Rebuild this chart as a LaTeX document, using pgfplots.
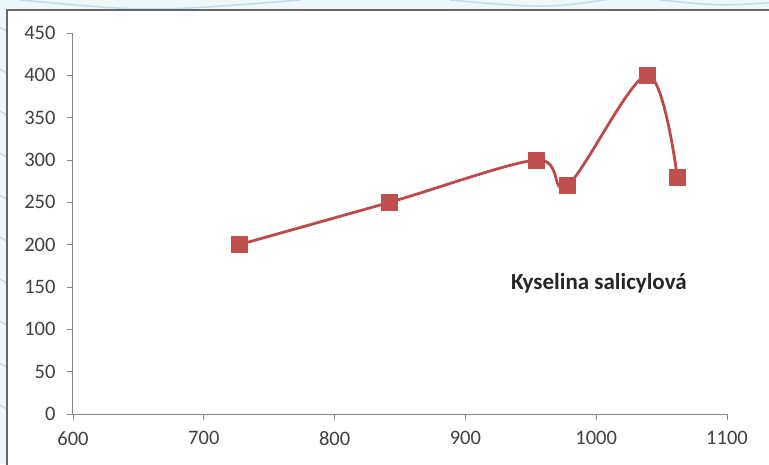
\documentclass[border=0pt]{standalone}
\usepackage{pgfplots}
\pgfplotsset{compat=1.18}
\usepackage{fontspec}
\setmainfont{Carlito}
\definecolor{serred}{HTML}{C0504D}
\definecolor{serline}{HTML}{BC4A4A}
\definecolor{axgray}{HTML}{868686}
\definecolor{labgray}{HTML}{404040}
\definecolor{bgblue}{HTML}{EEF7FA}
\definecolor{swirl}{HTML}{9FD0E0}
\begin{document}
\begin{tikzpicture}[x=1pt,y=1pt]
  % page backdrop
  \useasboundingbox (0,0) rectangle (769,464);
  \clip (0,0) rectangle (769,464);
  \fill[bgblue] (0,0) rectangle (769,464);
  \foreach \k in {0,...,9} {
    \draw[swirl, line width=1.2pt, opacity=0.7]
      (-10,{440-\k*42}) .. controls (2,{436-\k*42}) .. (8,{432-\k*42});
  }
  \draw[swirl, line width=1.5pt, opacity=0.6] (20,464) .. controls (150,452) .. (300,464);
  \draw[swirl, line width=1.5pt, opacity=0.6] (450,464) .. controls (550,455) .. (640,470);
  \draw[swirl, line width=1.5pt, opacity=0.6] (660,464) .. controls (720,458) .. (780,462);
  % chart area
  \fill[white] (7,-5) rectangle (775,454);
  \draw[gray!80!black, line width=1.5pt] (7,-5) -- (7,454) -- (775,454);
  \begin{axis}[
    at={(73pt,50pt)}, anchor=south west,
    scale only axis,
    width=654pt, height=381pt,
    xmin=600, xmax=1100, ymin=0, ymax=450,
    xtick={600,700,...,1100},
    ytick={0,50,...,450},
    axis x line=bottom, axis y line=left,
    axis line style={axgray, line width=1pt, -},
    major tick style={axgray, line width=0.8pt},
    major tick length=6pt,
    tick align=outside,
    every tick label/.append style={font=\fontsize{20.5}{22}\selectfont, text=labgray},
    xticklabel style={yshift=-8pt},
    yticklabel style={xshift=-8pt},
    /pgf/number format/assume math mode=true,
    /pgf/number format/1000 sep={},
    clip=false,
  ]
    \addplot[serline, line width=2.8pt, smooth, tension=0.55,
      mark=square*, mark size=8pt,
      mark options={fill=serred, draw=serred, line width=0.5pt}]
      coordinates {
        (727,200) (842,250) (954,300) (978,270) (1039,400) (1062,280)
      };
    \node[font=\fontsize{23}{26}\selectfont\bfseries, text=black!85]
      at (axis cs:1002,155) {Kyselina salicylová};
  \end{axis}
\end{tikzpicture}
\end{document}
